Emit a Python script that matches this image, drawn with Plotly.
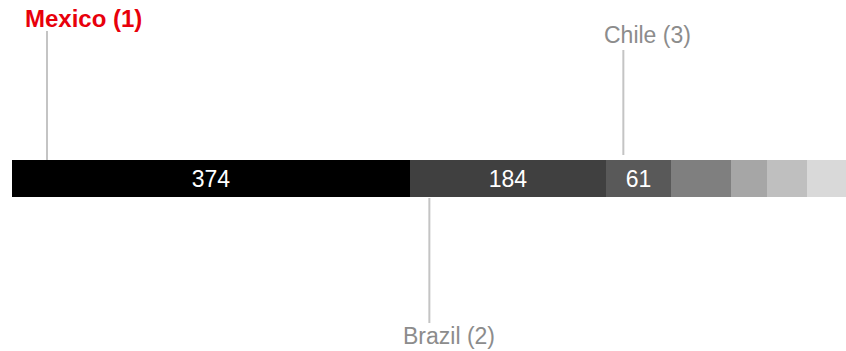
import plotly.graph_objects as go

# Data
values = [374, 184, 61, 56, 34, 37, 37]
bar_labels = ["374", "184", "61", "", "", "", ""]
colors = ["#000000", "#404040", "#595959", "#7f7f7f", "#a6a6a6", "#bfbfbf", "#d9d9d9"]
callout_names = ["Mexico (1)", "Brazil (2)", "Chile (3)"]
callout_index = [0, 1, 2]

W, H = 846, 351
FONT = "Liberation Sans, Arial, sans-serif"

fig = go.Figure()
for v, lab, c in zip(values, bar_labels, colors):
    fig.add_trace(go.Bar(
        x=[v], y=[0], orientation="h", marker=dict(color=c, line=dict(width=0)),
        text=[lab], textposition="inside", insidetextanchor="middle",
        textfont=dict(color="white", size=23, family=FONT),
        width=1, hoverinfo="skip", showlegend=False,
    ))

starts = [sum(values[:i]) for i in range(len(values))]


def py(p):
    return 1 - p / H


callout_cfg = [
    dict(off=35, y0=31, y1=160, ly=18, shift=-24, color="#e8000b", bold=True, size=24),
    dict(off=19, y0=198, y1=323, ly=336, shift=-28, color="#8c8c8c", bold=False, size=23),
    dict(off=17, y0=50, y1=155, ly=35, shift=-21, color="#8c8c8c", bold=False, size=23),
]
for name, idx, cfg in zip(callout_names, callout_index, callout_cfg):
    s = starts[idx]
    fig.add_shape(type="line", xref="x", yref="paper", xsizemode="pixel",
                  xanchor=s, x0=cfg["off"], x1=cfg["off"],
                  y0=py(cfg["y0"]), y1=py(cfg["y1"]),
                  line=dict(color="#c4c4c4", width=2))
    txt = f"<b>{name}</b>" if cfg["bold"] else name
    fig.add_annotation(x=s, y=py(cfg["ly"]), xref="x", yref="paper",
                       text=txt, showarrow=False, xanchor="left", yanchor="middle",
                       xshift=cfg["off"] + cfg["shift"],
                       font=dict(color=cfg["color"], size=cfg["size"], family=FONT))

total = sum(values)
cy, bh = 178.5, 37
top = cy / bh
bot = (H - cy) / bh
fig.update_layout(
    width=W, height=H, barmode="stack",
    margin=dict(l=12, r=0, t=0, b=0),
    plot_bgcolor="white", paper_bgcolor="white",
    xaxis=dict(range=[0, total], visible=False, fixedrange=True),
    yaxis=dict(range=[-bot, top], visible=False, fixedrange=True),
    bargap=0,
)
fig.write_html("out.html", config=dict(displayModeBar=False),
               post_script="document.body.style.margin='0';document.body.style.overflow='hidden';")
